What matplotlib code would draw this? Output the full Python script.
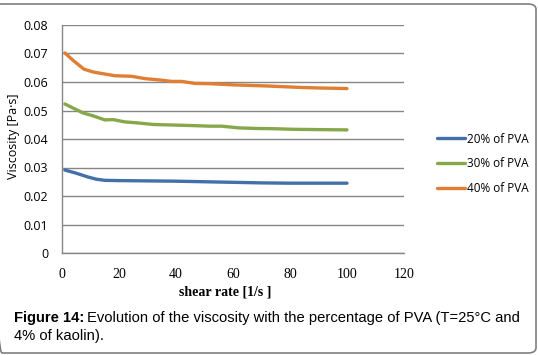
import matplotlib
matplotlib.use("Agg")
import matplotlib.pyplot as plt
from matplotlib.patches import FancyBboxPatch

# Data
x20 = [1, 5, 9, 12, 15, 20, 30, 40, 50, 60, 70, 80, 90, 100]
v20 = [0.0291, 0.0280, 0.0267, 0.0259, 0.0255, 0.0254, 0.0253, 0.0252, 0.0250, 0.0248, 0.0246, 0.0245, 0.0245, 0.0245]

x30 = [1, 4, 7.5, 11, 15, 18, 22, 26, 32, 39, 46, 52, 56, 62, 68, 75, 81, 90, 100]
v30 = [0.0523, 0.0508, 0.0491, 0.0481, 0.0467, 0.0468, 0.0460, 0.0457, 0.0451, 0.0449, 0.0447, 0.0445, 0.0445, 0.0439, 0.0437, 0.0436, 0.0434, 0.0433, 0.0432]

x40 = [1, 4, 7.7, 11, 15, 18.6, 24.4, 29, 34.4, 38.5, 42, 46.7, 52, 60, 72, 83.5, 90.5, 100]
v40 = [0.0702, 0.0675, 0.0645, 0.0635, 0.0628, 0.0622, 0.0620, 0.0612, 0.0607, 0.0602, 0.0602, 0.0595, 0.0594, 0.0590, 0.0586, 0.0581, 0.0579, 0.0577]

labels = ["20% of PVA", "30% of PVA", "40% of PVA"]
colors = ["#4470a8", "#86a84a", "#e07f33"]

xticks = [0, 20, 40, 60, 80, 100, 120]
yticks = [0, 0.01, 0.02, 0.03, 0.04, 0.05, 0.06, 0.07, 0.08]

W, H = 538, 355
fig = plt.figure(figsize=(W / 100, H / 100), dpi=100)
ax = fig.add_axes([62 / W, 1 - 253 / H, (404 - 62) / W, (253 - 25) / H])

for xs, vs, lab, c in zip([x20, x30, x40], [v20, v30, v40], labels, colors):
    ax.plot(xs, vs, color=c, lw=2.4, label=lab, solid_capstyle="round")

ax.set_xlim(0, 120)
ax.set_ylim(0, 0.08)
ax.set_xticks(xticks)
ax.set_yticks(yticks)
ax.set_xticklabels([str(t) for t in xticks], family="Liberation Serif", fontsize=10)
ax.set_yticklabels(["0"] + ["%.2f" % t for t in yticks[1:]], family="Open Sans", fontsize=9)
ax.tick_params(axis="y", length=0, pad=10)
ax.tick_params(axis="x", length=0, pad=11)
ax.grid(axis="y", color="#868686", lw=1)
ax.set_axisbelow(True)
for s in ["top", "right"]:
    ax.spines[s].set_visible(False)
for s in ["left", "bottom"]:
    ax.spines[s].set_color("#868686")
    ax.spines[s].set_linewidth(1)

fig.text(14 / W, 1 - 136 / H, "Viscosity [Pa·s]", rotation=90, ha="center", va="center",
         family="Open Sans", fontsize=9)
fig.text(225 / W, 1 - 292 / H, "shear rate [1/s ]", ha="center", va="center",
         family="Liberation Serif", fontweight="bold", fontsize=10)

leg = fig.legend(loc="upper left", bbox_to_anchor=(426 / W, 1 - 122 / H), frameon=False,
                 handlelength=2.4, handletextpad=0.15, labelspacing=1.0,
                 prop={"family": "Open Sans", "size": 8.5})

cap_y1 = 1 - 318 / H
t1 = fig.text(14 / W, cap_y1, "Figure 14:", ha="left", va="center",
              family="Liberation Sans", fontweight="bold", fontsize=10.6)
fig.canvas.draw()
bb = t1.get_window_extent()
fig.text((bb.x1 + 3) / W, cap_y1,
         "Evolution of the viscosity with the percentage of PVA (T=25°C and",
         ha="left", va="center", family="Liberation Sans", fontsize=10.6)
fig.text(14 / W, 1 - 336 / H, "4% of kaolin).", ha="left", va="center",
         family="Liberation Sans", fontsize=10.6)

frame = FancyBboxPatch((-6 / W, 1 - 353 / H), (536 + 6) / W, (353 - 4) / H,
                       boxstyle="round,pad=0,rounding_size=0.015", transform=fig.transFigure,
                       facecolor="none", edgecolor="#7f7f7f", lw=1.2)
fig.patches.append(frame)

fig.savefig("out.png", dpi=100)
